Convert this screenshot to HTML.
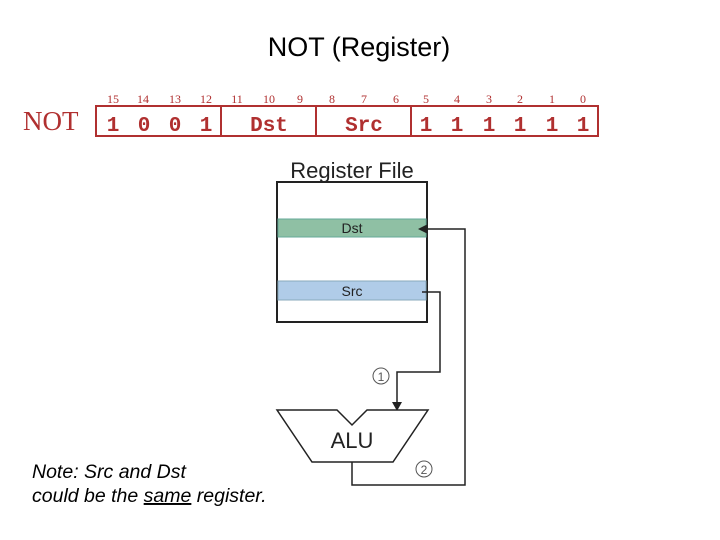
<!DOCTYPE html>
<html><head><style>
body{margin:0;width:720px;height:540px;background:#fff;overflow:hidden;position:relative;font-family:"Liberation Sans",sans-serif}
</style></head><body>
<svg width="720" height="540" style="position:absolute;left:0;top:0">
<text x="359" y="56" font-size="27" text-anchor="middle" font-family="Liberation Sans">NOT (Register)</text>
<text x="23" y="130" font-size="27" fill="#b03030" font-family="Liberation Serif">NOT</text>
<g font-size="12" fill="#b03030" font-family="Liberation Serif" text-anchor="middle">
<text x="113" y="103">15</text><text x="143" y="103">14</text><text x="175" y="103">13</text><text x="206" y="103">12</text>
<text x="237" y="103">11</text><text x="269" y="103">10</text><text x="300" y="103">9</text>
<text x="332" y="103">8</text><text x="364" y="103">7</text><text x="396" y="103">6</text>
<text x="426" y="103">5</text><text x="457" y="103">4</text><text x="489" y="103">3</text><text x="520" y="103">2</text><text x="552" y="103">1</text><text x="583" y="103">0</text>
</g>
<rect x="96" y="106" width="502" height="30" fill="none" stroke="#b03030" stroke-width="2"/>
<line x1="221" y1="106" x2="221" y2="136" stroke="#b03030" stroke-width="2"/>
<line x1="316" y1="106" x2="316" y2="136" stroke="#b03030" stroke-width="2"/>
<line x1="411" y1="106" x2="411" y2="136" stroke="#b03030" stroke-width="2"/>
<g font-size="21" fill="#b03030" font-family="Liberation Mono" font-weight="bold" text-anchor="middle">
<text x="113" y="131">1</text><text x="144" y="131">0</text><text x="175" y="131">0</text><text x="206" y="131">1</text>
<text x="269" y="131">Dst</text><text x="364" y="131">Src</text>
<text x="426" y="131">1</text><text x="457" y="131">1</text><text x="489" y="131">1</text><text x="520" y="131">1</text><text x="552" y="131">1</text><text x="583" y="131">1</text>
</g>
<text x="352" y="178" font-size="22" text-anchor="middle" fill="#222">Register File</text>
<rect x="277" y="182" width="150" height="140" fill="#fff" stroke="#222" stroke-width="2"/>
<rect x="278" y="219" width="148" height="18" fill="#8fc0a4" stroke="#6a9" stroke-width="1"/>
<rect x="278" y="281" width="148" height="19" fill="#b0cce8" stroke="#8ab" stroke-width="1"/>
<text x="352" y="233" font-size="14" text-anchor="middle" fill="#222">Dst</text>
<text x="352" y="296" font-size="14" text-anchor="middle" fill="#222">Src</text>
<polyline points="422,292 440,292 440,372 397,372 397,404" fill="none" stroke="#222" stroke-width="1.5"/>
<polygon points="392,402 402,402 397,411" fill="#222"/>
<polyline points="352,462 352,485 465,485 465,229 428,229" fill="none" stroke="#222" stroke-width="1.5"/>
<polygon points="418,229 428,224 428,234" fill="#222"/>
<polygon points="277,410 337,410 352,425 367,410 428,410 393,462 312,462" fill="#fff" stroke="#222" stroke-width="1.5"/>
<text x="352" y="448" font-size="22" text-anchor="middle" fill="#222">ALU</text>
<circle cx="381" cy="376" r="8" fill="none" stroke="#555"/>
<text x="381" y="381" font-size="12" text-anchor="middle" fill="#555">1</text>
<circle cx="424" cy="469" r="8" fill="none" stroke="#555"/>
<text x="424" y="474" font-size="12" text-anchor="middle" fill="#555">2</text>
<text x="32" y="478" font-size="19.5" font-style="italic">Note: Src and Dst</text>
<text x="32" y="502" font-size="19.5" font-style="italic">could be the <tspan text-decoration="underline">same</tspan> register.</text>
</svg>
</body></html>
